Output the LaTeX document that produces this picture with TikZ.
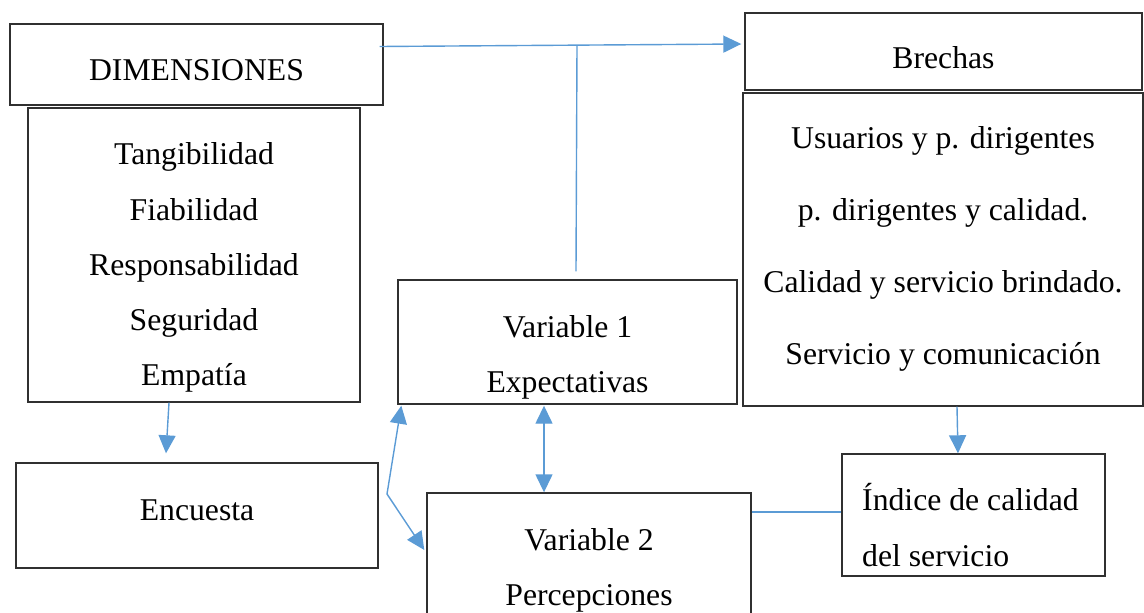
\documentclass[tikz,border=0pt]{standalone}
\usepackage{fontspec}
\setmainfont{Liberation Serif}
\usetikzlibrary{arrows.meta}
\definecolor{conn}{HTML}{5B9BD5}
\definecolor{edge}{HTML}{303030}
\begin{document}
\begin{tikzpicture}[x=1pt,y=-1pt,
  box/.style={draw=edge,line width=1.4pt,rectangle,inner sep=0pt,minimum width=#1},
  lbl/.style={anchor=base,inner sep=0pt,font=\fontsize{31.7}{38}\selectfont},
  lblw/.style={anchor=base west,inner sep=0pt,font=\fontsize{31.7}{38}\selectfont},
  link/.style={draw=conn,line width=1.4pt},
  tip/.style={-{Triangle[length=18pt,width=17pt]}},
  tips/.style={{Triangle[length=18pt,width=17pt]}-{Triangle[length=18pt,width=17pt]}}]
\useasboundingbox (0,0) rectangle (1144,613);
\clip (0,0) rectangle (1144,613);
% boxes
\node[box=373pt,minimum height=81pt] (dim) at (196.5,64.5) {};
\node[box=332pt,minimum height=294pt] (tang) at (194,255) {};
\node[box=362pt,minimum height=105pt] (enc) at (197,515.5) {};
\node[box=339pt,minimum height=124pt] (v1) at (567.5,342) {};
\node[box=324pt,minimum height=147pt] (v2) at (589,566.5) {};
\node[box=397pt,minimum height=77pt] (bre) at (943.5,51.5) {};
\node[box=400pt,minimum height=313pt] (usu) at (943,249.5) {};
\node[box=263pt,minimum height=122pt] (ind) at (973.5,515) {};
% texts
\node[lbl] (tdim) at (196.5,80) {DIMENSIONES};
\node[lbl] (t1) at (194,164) {Tangibilidad};
\node[lbl] (t2) at (194,220) {Fiabilidad};
\node[lbl] (t3) at (194,275) {Responsabilidad};
\node[lbl] (t4) at (194,330) {Seguridad};
\node[lbl] (t5) at (194,385) {Empatía};
\node[lbl] (tenc) at (197,520) {Encuesta};
\node[lbl] (tv1a) at (567.5,337) {Variable 1};
\node[lbl] (tv1b) at (567.5,392) {Expectativas};
\node[lbl] (tv2a) at (589,550) {Variable 2};
\node[lbl] (tv2b) at (589,605) {Percepciones};
\node[lbl] (tbre) at (943.5,68) {Brechas};
\node[lbl] (u1) at (943,148) {Usuarios y p. dirigentes};
\node[lbl] (u2) at (943,220) {p. dirigentes y calidad.};
\node[lbl] (u3) at (943,292) {Calidad y servicio brindado.};
\node[lbl] (u4) at (943,364) {Servicio y comunicación};
\node[lblw] (i1) at (862,510) {Índice de calidad};
\node[lblw] (i2) at (862,566) {del servicio};
% connectors
\coordinate (jn) at (577,45.5);
\draw[link,tip] ([xshift=-4pt,yshift=18pt]dim.east) -- ([xshift=-3pt,yshift=7.5pt]bre.west);
\draw[link] (jn) -- ([xshift=8.5pt,yshift=8pt]v1.north);
\draw[link,tip] ([xshift=-25pt]tang.south) -- ([xshift=-31pt,yshift=9pt]enc.north);
\coordinate (bend) at (387,494);
\draw[link,tips] ([xshift=4pt,yshift=-1pt]v1.south west) -- (bend) -- ([xshift=-2pt,yshift=16.5pt]v2.west);
\draw[link,tips] ([xshift=-23.5pt,yshift=-1pt]v1.south) -- ([xshift=-45pt]v2.north);
\draw[link,tip] ([xshift=14pt]usu.south) -- ([xshift=-15.5pt]ind.north);
\draw[link] ([yshift=54.5pt]v2.east) -- ([yshift=3pt]ind.west);
\end{tikzpicture}
\end{document}
